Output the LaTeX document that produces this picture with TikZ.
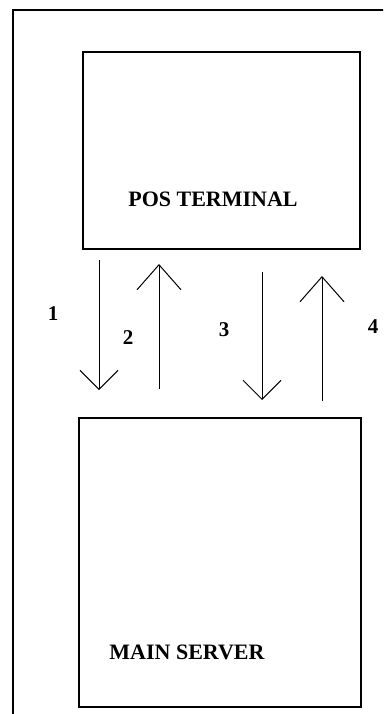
\documentclass[tikz,border=0pt]{standalone}
\usepackage{fontspec}
\setmainfont{Liberation Serif}
\usetikzlibrary{arrows.meta}

\begin{document}
\begin{tikzpicture}[
  x=1pt,y=-1pt,
  box/.style={draw=black,line width=1.4pt,inner sep=0pt},
  caption/.style={font=\bfseries\fontsize{22}{24}\selectfont,inner sep=0pt},
  num/.style={font=\bfseries\fontsize{21}{23}\selectfont,inner sep=0pt},
  msgdown/.style={-{Straight Barb[length=19pt,width=38pt]},line width=1pt},
  msgup/.style={-{Straight Barb[length=25pt,width=44pt]},line width=1pt}
]
\useasboundingbox (0,0) rectangle (383,714);
\clip (0,0) rectangle (383,714);
\fill[white] (0,0) rectangle (383,714);

% outer frame, cut off at the right and bottom edges
\draw[line width=1.4pt] (13,730) -- (13,10) -- (400,10);

% the two boxes
\node[box,minimum width=277pt,minimum height=197pt] (pos) at (221.5,150.5) {};
\node[caption] (postext) at (213,199) {POS TERMINAL};
\node[box,minimum width=282pt,minimum height=289pt] (srv) at (220,562.5) {};
\node[caption] (srvtext) at (187,652) {MAIN SERVER};

% message arrows
\coordinate (a1s) at (99,260);  \coordinate (a1e) at (99,390);
\coordinate (a2s) at (159,389); \coordinate (a2e) at (159,264);
\coordinate (a3s) at (262,272); \coordinate (a3e) at (262,400);
\coordinate (a4s) at (322,401); \coordinate (a4e) at (322,276);
\draw[msgdown] (a1s) -- (a1e);
\draw[msgup] (a2s) -- (a2e);
\draw[msgdown] (a3s) -- (a3e);
\draw[msgup] (a4s) -- (a4e);

% step numbers
\node[num] (n1) at (53,314) {1};
\node[num] (n2) at (128,338) {2};
\node[num] (n3) at (224,330) {3};
\node[num] (n4) at (373,327) {4};
\end{tikzpicture}
\end{document}
